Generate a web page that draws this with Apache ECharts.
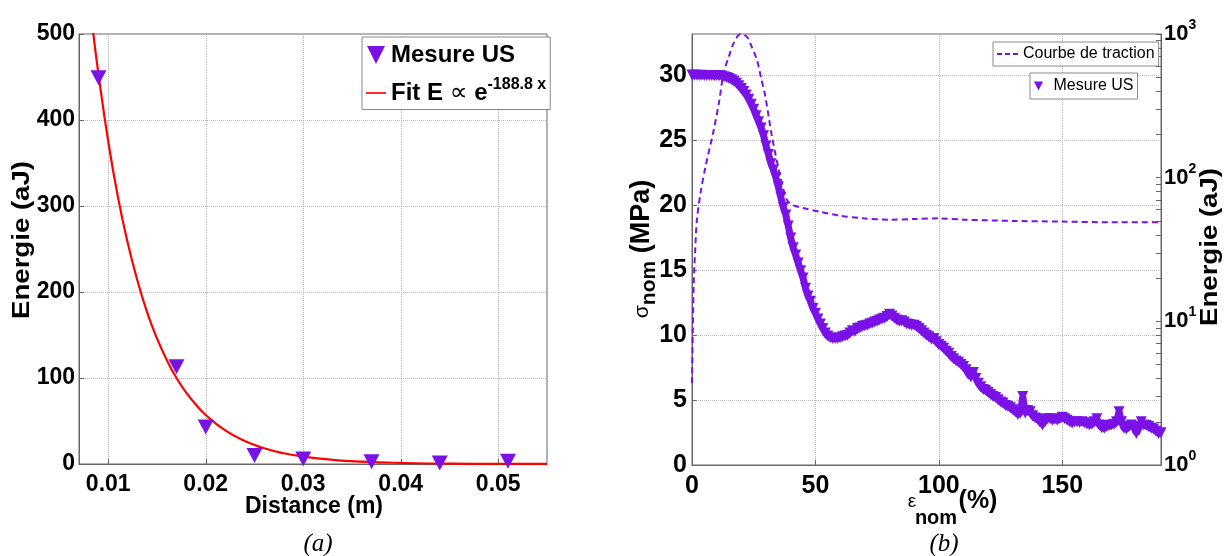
<!DOCTYPE html>
<html><head><meta charset="utf-8">
<script src="https://cdn.jsdelivr.net/npm/echarts@6/dist/echarts.min.js"></script>
<style>html,body{margin:0;padding:0;background:#fff}#c{width:1225px;height:556px}</style>
</head><body><div id="c"></div>
<script>
// ---------- Panel (a) ----------
const distanceUS = [0.009, 0.017, 0.020, 0.025, 0.030, 0.037, 0.044, 0.051];
const energyUS_a = [449, 113, 43, 10, 5.8, 2.7, 1.2, 3.3];
const fitDistance = [0.0084, 0.009, 0.010, 0.011, 0.012, 0.013, 0.014, 0.015, 0.016, 0.017, 0.018, 0.019, 0.020, 0.022, 0.024, 0.026, 0.028, 0.030, 0.033, 0.036, 0.040, 0.045, 0.050, 0.055];
const fitEnergy = [507, 453, 375, 310, 257, 213, 176, 146, 121, 100, 83, 69, 57, 39, 26.7, 18.3, 12.5, 8.6, 4.9, 2.8, 1.3, 0.4, 0.2, 0.1];

// ---------- Panel (b) ----------
const strainTraction = [0, 0.3, 0.7, 1.3, 2, 3.5, 5.5, 8.8, 11, 12.8, 15, 16.9, 19.6, 22.2, 24, 26.3, 28, 29.7, 32.4, 35.8, 38.5, 41.2, 45, 52, 60, 69.5, 80, 90, 100, 110, 130, 150, 170, 190];
const stressTraction = [6.3, 10, 14, 16.6, 18.9, 21, 23, 25.8, 28, 30.2, 31.5, 32.5, 33.2, 33.0, 32.3, 31.2, 29.8, 28.4, 25.3, 22.2, 20.4, 20.0, 19.8, 19.5, 19.2, 19.0, 18.9, 18.95, 19.0, 18.9, 18.8, 18.75, 18.7, 18.7];
const strainUS = [0,1,2,3,4,5,6,7,8,9,10,11,12,13,14,15,16,17,18,19,20,21,22,23,24,25,26,27,28,29,30,31,32,33,34,35,36,37,38,39,40,41,42,43,44,45,46,47,48,49,50,51,52,53,54,55,56,57,58,59,60,61,62,63,64,65,66,67,68,69,70,71,72,73,74,75,76,77,78,79,80,81,82,83,84,85,86,87,88,89,90,91,92,93,94,95,96,97,98,99,100,101,102,103,104,105,106,107,108,109,110,111,112,113,114,115,116,117,118,119,120,121,122,123,124,125,126,127,128,129,130,131,132,133,134,135,136,137,138,139,140,141,142,143,144,145,146,147,148,149,150,151,152,153,154,155,156,157,158,159,160,161,162,163,164,165,166,167,168,169,170,171,172,173,174,175,176,177,178,179,180,181,182,183,184,185,186,187,188,189,190];
const energyUS_b = [518,516,517,515,516,514,515,514,515,513,514,512,510,505,498,490,480,468,455,437,418,398,376,352,325,299,270,245,222,196,166,145,125,113,100,86,73,62,55,46,38,32.5,29,25.5,22.5,20,17,15,13.8,12.3,11.4,10.4,9.6,8.9,8.3,7.9,7.7,7.6,7.6,7.6,7.7,7.8,7.9,8.0,8.3,8.6,8.5,8.9,9.0,9.2,9.3,9.4,9.6,9.7,9.9,10.0,10.2,10.4,10.5,10.8,11.2,10.9,10.5,10.2,10.0,10.1,9.9,9.6,9.5,9.4,9.4,9.2,8.9,8.6,8.3,8.0,7.8,7.5,7.6,7.2,6.9,6.7,6.5,6.2,6.0,5.7,5.5,5.3,5.2,5.0,4.85,4.6,4.3,4.1,4.4,4.0,3.7,3.5,3.35,3.3,3.2,3.1,3.0,2.95,2.85,2.75,2.7,2.6,2.55,2.5,2.42,2.35,2.25,2.3,3.0,2.3,2.4,2.35,2.2,2.12,2.1,2.0,1.9,2.05,2.1,2.1,2.05,2.08,2.05,2.1,2.15,2.1,2.05,2.0,1.95,2.0,2.0,1.98,2.0,1.97,1.93,1.9,1.92,2.0,2.1,1.9,1.82,1.8,1.85,1.88,1.9,1.92,2.0,2.35,2.0,1.8,1.78,1.85,1.9,1.85,1.66,1.8,2.0,1.9,1.88,1.85,1.8,1.78,1.72,1.66,1.68];
const logMajor = [1, 10, 100, 1000];
const logMinor = [1,2,3,4,5,6,7,8,9,10,20,30,40,50,60,70,80,90,100,200,300,400,500,600,700,800,900,1000];

const PURPLE = '#7a12e6';
const SANS = '"Liberation Sans", Arial, sans-serif';
const SERIF = '"Liberation Serif", "Times New Roman", serif';
const TRI = 'path://M0,0L10,0L5,10Z';
const LINE = 'path://M0,9L24,9L24,11L0,11Z';
const DASH = 'path://M0,9h5v2h-5z M8,9h5v2h-5z M16,9h5v2h-5z';

const zip = (a, b) => a.map((v, i) => [v, b[i]]);
const chart = echarts.init(document.getElementById('c'));

const gridLine = { show: true, lineStyle: { color: '#b5b5b5', type: 'dotted', width: 1 } };
const axLine = { show: true, lineStyle: { color: '#666', width: 1 } };
const tick = { show: true, inside: true, length: 5, lineStyle: { color: '#666' } };

chart.setOption({
  animation: false,
  backgroundColor: '#fff',
  grid: [
    { left: 79, top: 34, width: 468, height: 430, show: true, borderColor: '#666', borderWidth: 1 },
    { left: 692, top: 34, width: 469, height: 431, show: true, borderColor: '#666', borderWidth: 1 }
  ],
  xAxis: [
    { type: 'value', gridIndex: 0, min: 0.007, max: 0.055, splitNumber: 5,
      axisLine: axLine, axisTick: tick, splitLine: gridLine,
      axisLabel: { showMinLabel: false, showMaxLabel: false, margin: 9, color: '#000', fontFamily: SANS, fontWeight: 'bold', fontSize: 23,
        formatter: v => v.toFixed(2) } },
    { type: 'value', gridIndex: 1, min: 0, max: 190, interval: 50,
      axisLine: axLine, axisTick: tick, splitLine: gridLine,
      axisLabel: { showMaxLabel: false, margin: 9, color: '#000', fontFamily: SANS, fontWeight: 'bold', fontSize: 25 } }
  ],
  yAxis: [
    { type: 'value', gridIndex: 0, min: 0, max: 500, interval: 100,
      axisLine: axLine, axisTick: tick, splitLine: gridLine,
      axisLabel: { margin: 4, color: '#000', fontFamily: SANS, fontWeight: 'bold', fontSize: 23 } },
    { type: 'value', gridIndex: 1, min: 0, max: 33.2, interval: 5,
      axisLine: axLine, axisTick: tick, splitLine: gridLine,
      axisLabel: { showMaxLabel: false, margin: 5, color: '#000', fontFamily: SANS, fontWeight: 'bold', fontSize: 25 } },
    { type: 'log', logBase: 10, gridIndex: 1, min: 1, max: 1000, position: 'right',
      axisLine: axLine, splitLine: { show: false },
      axisTick: { show: true, inside: true, length: 5, lineStyle: { color: '#666' }, customValues: logMinor },
      axisLabel: { margin: 3, customValues: logMajor, color: '#000',
        formatter: v => '{b|10}{s|' + Math.round(Math.log10(v)) + '}',
        rich: {
          b: { fontFamily: SANS, fontWeight: 'bold', fontSize: 22, color: '#000' },
          s: { fontFamily: SANS, fontWeight: 'bold', fontSize: 14, color: '#000', padding: [0, 0, 18, 0] }
        } } }
  ],
  legend: [
    { left: 362, top: 37, orient: 'vertical', selectedMode: false,
      backgroundColor: '#fff', borderColor: '#888', borderWidth: 1, padding: [6, 4, 4, 4],
      itemWidth: 20, itemHeight: 18, itemGap: 10,
      data: [{ name: 'Mesure US', icon: TRI }, { name: 'Fit', icon: LINE }],
      formatter: n => n === 'Fit' ? '{b|Fit E }{p|∝}{b| e}{s|-188.8 x}' : '{b|Mesure US}',
      textStyle: { rich: {
        b: { fontFamily: SANS, fontWeight: 'bold', fontSize: 24, color: '#000' },
        p: { fontFamily: '"DejaVu Sans", sans-serif', fontSize: 25, color: '#000' },
        s: { fontFamily: SANS, fontWeight: 'bold', fontSize: 16, color: '#000', padding: [0, 0, 16, 0] }
      } } },
    { left: 993, top: 42, orient: 'vertical', selectedMode: false,
      backgroundColor: '#fff', borderColor: '#888', borderWidth: 1, padding: [4, 4, 4, 4],
      itemWidth: 21, itemHeight: 18, itemGap: 5,
      data: [{ name: 'Courbe de traction', icon: DASH }],
      textStyle: { fontFamily: SANS, fontSize: 16, color: '#000' } },
    { left: 1030, top: 73, orient: 'vertical', selectedMode: false,
      backgroundColor: '#fff', borderColor: '#888', borderWidth: 1, padding: [5, 4, 5, 4],
      itemWidth: 20, itemHeight: 9,
      data: [{ name: 'Mesure US', icon: TRI }],
      textStyle: { fontFamily: SANS, fontSize: 16, color: '#000' } }
  ],
  series: [
    { name: 'Fit', type: 'line', xAxisIndex: 0, yAxisIndex: 0, data: zip(fitDistance, fitEnergy),
      smooth: true, symbol: 'none', clip: true, z: 2,
      itemStyle: { color: '#ff0000' }, lineStyle: { color: '#ff0000', width: 2.2 } },
    { name: 'Mesure US', type: 'scatter', xAxisIndex: 0, yAxisIndex: 0, data: zip(distanceUS, energyUS_a),
      symbol: 'triangle', symbolRotate: 180, symbolSize: [16, 15], z: 3,
      itemStyle: { color: PURPLE, opacity: 1 } },
    { name: 'Courbe de traction', type: 'line', xAxisIndex: 1, yAxisIndex: 1, data: zip(strainTraction, stressTraction),
      smooth: 0.3, symbol: 'none', z: 3,
      itemStyle: { color: PURPLE }, lineStyle: { color: PURPLE, width: 2, type: [6, 4] } },
    { name: 'Mesure US', type: 'line', xAxisIndex: 1, yAxisIndex: 2, data: zip(strainUS, energyUS_b),
      symbol: 'triangle', symbolRotate: 180, symbolSize: 11, showAllSymbol: true, z: 2,
      itemStyle: { color: PURPLE, opacity: 1 }, lineStyle: { color: PURPLE, width: 7 } }
  ],
  graphic: [
    { type: 'text', x: 23, y: 240, rotation: Math.PI / 2, scaleX: 1.2,
      style: { text: 'Energie (aJ)', font: 'bold 23px ' + SANS, fill: '#000', align: 'center', verticalAlign: 'middle' } },
    { type: 'text', x: 314, y: 507,
      style: { text: 'Distance (m)', font: 'bold 23px ' + SANS, fill: '#000', align: 'center', verticalAlign: 'middle' } },
    { type: 'text', x: 318, y: 544,
      style: { text: '(a)', font: 'italic 25px ' + SERIF, fill: '#000', align: 'center', verticalAlign: 'middle' } },
    { type: 'text', x: 944, y: 544,
      style: { text: '(b)', font: 'italic 25px ' + SERIF, fill: '#000', align: 'center', verticalAlign: 'middle' } },
    { type: 'text', x: 642, y: 249, rotation: Math.PI / 2,
      style: { text: '{s|σ}{n|nom}{m| (MPa)}', align: 'center', verticalAlign: 'middle',
        rich: {
          s: { fontFamily: SANS, fontSize: 21, color: '#000' },
          n: { fontFamily: SANS, fontWeight: 'bold', fontSize: 21, color: '#000', padding: [15, 0, 0, 0] },
          m: { fontFamily: SANS, fontWeight: 'bold', fontSize: 27, color: '#000' }
        } } },
    { type: 'text', x: 1211, y: 247, rotation: Math.PI / 2, scaleX: 1.2,
      style: { text: 'Energie (aJ)', font: 'bold 23px ' + SANS, fill: '#000', align: 'center', verticalAlign: 'middle' } },
    { type: 'text', x: 912, y: 502,
      style: { text: 'ε', font: '19px ' + SANS, fill: '#000', align: 'center', verticalAlign: 'middle' } },
    { type: 'text', x: 936, y: 518,
      style: { text: 'nom', font: 'bold 20px ' + SANS, fill: '#000', align: 'center', verticalAlign: 'middle' } },
    { type: 'text', x: 978, y: 501,
      style: { text: '(%)', font: 'bold 25px ' + SANS, fill: '#000', align: 'center', verticalAlign: 'middle' } }
  ]
});
</script></body></html>
